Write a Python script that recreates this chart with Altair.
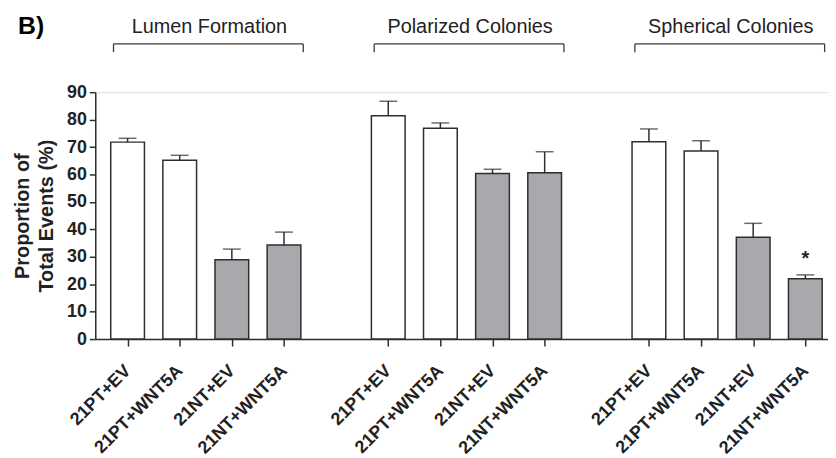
import altair as alt
import pandas as pd

# ---- data ----
groups = ["Lumen Formation", "Polarized Colonies", "Spherical Colonies"]
conditions = ["21PT+EV", "21PT+WNT5A", "21NT+EV", "21NT+WNT5A"]
cell_type = ["PT", "PT", "NT", "NT"]

lumen_mean = [71.8, 65.2, 28.9, 34.3]
lumen_err = [1.4, 1.8, 3.9, 4.7]
polar_mean = [81.4, 76.9, 60.4, 60.6]
polar_err = [5.3, 1.9, 1.5, 7.7]
spher_mean = [71.9, 68.6, 37.1, 22.0]
spher_err = [4.7, 3.7, 5.1, 1.4]

significant = [(2, 3, "*")]  # (group index, condition index, mark)

y_ticks = [0, 10, 20, 30, 40, 50, 60, 70, 80, 90]

# ---- build tables ----
means = [lumen_mean, polar_mean, spher_mean]
errs = [lumen_err, polar_err, spher_err]
slots_per_group = len(conditions) + 1

rows = []
for g, gname in enumerate(groups):
    for c, cname in enumerate(conditions):
        m = means[g][c]
        e = errs[g][c]
        rows.append(dict(group=gname, cond=cname, kind=cell_type[c],
                         pos=g * slots_per_group + c, mean=m, top=m + e))
df = pd.DataFrame(rows)

n_slots = slots_per_group * len(groups) - 1
label_arr = [""] * n_slots
for r in rows:
    label_arr[r["pos"]] = r["cond"]
label_expr = "[" + ",".join("'" + s + "'" for s in label_arr) + "][datum.value]"

BRACKET_Y = 107.6
BRACKET_TICK = 104.6
TITLE_Y = 111.7
grp = pd.DataFrame([
    dict(group=gname,
         x1=g * slots_per_group - 0.27,
         x2=g * slots_per_group + len(conditions) - 1 + 0.37,
         xc=g * slots_per_group + 1.57,
         y=BRACKET_Y, yt=BRACKET_TICK, ty=TITLE_Y)
    for g, gname in enumerate(groups)
])
ends = pd.DataFrame(
    [dict(x=r["x1"], y=BRACKET_Y, yt=BRACKET_TICK) for _, r in grp.iterrows()]
    + [dict(x=r["x2"], y=BRACKET_Y, yt=BRACKET_TICK) for _, r in grp.iterrows()]
)

sig = pd.DataFrame([
    dict(pos=g * slots_per_group + c,
         y=means[g][c] + errs[g][c] + 3.5, txt=t)
    for g, c, t in significant
])

panel = pd.DataFrame([dict(x=-2.1, y=111.3, txt="B)")])

FONT = "Liberation Sans"
INK = "#2e2e2e"
xscale = alt.Scale(domain=[-0.525, n_slots - 1 + 0.34], nice=False, zero=False)
yscale = alt.Scale(domain=[0, 90], nice=False)

x_axis = alt.Axis(
    values=list(df["pos"]), labelExpr=label_expr, title=None,
    labelAngle=-45, labelAlign="right", labelBaseline="middle",
    labelFont=FONT, labelFontSize=18, labelFontWeight="bold", labelColor="#222",
    labelPadding=22, tickSize=7, tickWidth=1.5, tickColor=INK,
    domainColor=INK, domainWidth=1.5, grid=False, labelOverlap=False,
    labelBound=False, labelFlush=False,
)
y_axis = alt.Axis(
    values=y_ticks, tickCount=10, title=["Proportion of", "Total Events (%)"],
    labelFont=FONT, labelFontSize=18, labelFontWeight="bold", labelColor="#222",
    labelPadding=3, tickSize=6, tickWidth=1.5, tickColor=INK, labelOverlap=False,
    domainColor=INK, domainWidth=1.5, grid=False,
    titleFont=FONT, titleFontSize=20, titleFontWeight="bold", titleColor="#222",
    titleLineHeight=24, titlePadding=10,
)

base = alt.Chart(df)

bars = base.mark_bar(size=34, stroke=INK, strokeWidth=1.5).encode(
    x=alt.X("pos:Q", scale=xscale, axis=x_axis),
    y=alt.Y("mean:Q", scale=yscale, axis=y_axis),
    fill=alt.Fill("kind:N", scale=alt.Scale(domain=["PT", "NT"], range=["#ffffff", "#a8a9ad"]),
                  legend=None),
)
stems = base.mark_rule(color=INK, strokeWidth=1.5).encode(
    x=alt.X("pos:Q", scale=xscale), y=alt.Y("mean:Q", scale=yscale), y2="top:Q"
)
caps = base.mark_tick(orient="horizontal", size=18, thickness=1.5, color=INK).encode(
    x=alt.X("pos:Q", scale=xscale), y=alt.Y("top:Q", scale=yscale)
)
stars = alt.Chart(sig).mark_text(font=FONT, fontSize=20, fontWeight="bold", color="#222",
                                 baseline="alphabetic").encode(
    x=alt.X("pos:Q", scale=xscale), y=alt.Y("y:Q", scale=yscale), text="txt:N"
)
brackets = alt.Chart(grp).mark_rule(color="#3a3a3a", strokeWidth=1.3).encode(
    x=alt.X("x1:Q", scale=xscale), x2="x2:Q", y=alt.Y("y:Q", scale=yscale)
)
bracket_ends = alt.Chart(ends).mark_rule(color="#3a3a3a", strokeWidth=1.3).encode(
    x=alt.X("x:Q", scale=xscale), y=alt.Y("y:Q", scale=yscale), y2="yt:Q"
)
titles = alt.Chart(grp).mark_text(font=FONT, fontSize=20, color="#222",
                                  baseline="alphabetic", align="center").encode(
    x=alt.X("xc:Q", scale=xscale), y=alt.Y("ty:Q", scale=yscale), text="group:N"
)
panel_lbl = alt.Chart(panel).mark_text(font=FONT, fontSize=25, fontWeight="bold", color="#000",
                                       baseline="alphabetic", align="left").encode(
    x=alt.X("x:Q", scale=xscale), y=alt.Y("y:Q", scale=yscale), text="txt:N"
)

chart = alt.layer(
    bars, stems, caps, stars, brackets, bracket_ends, titles, panel_lbl
).properties(
    width=739, height=249,
    autosize=alt.AutoSizeParams(type="none"),
    padding={"left": 88, "top": 83, "right": 0, "bottom": 118},
).configure_view(stroke=None).configure(background="white")

chart.save("out.html", embed_options={"renderer": "svg", "actions": False})
